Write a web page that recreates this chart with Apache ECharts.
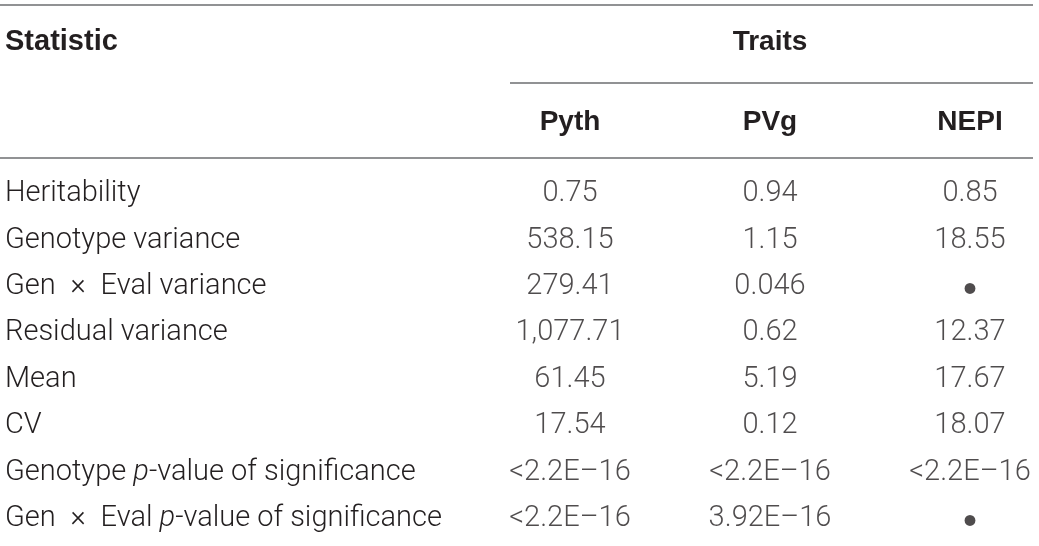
<!DOCTYPE html>
<html>
<head>
<meta charset="utf-8">
<script src="https://cdn.jsdelivr.net/npm/echarts@6/dist/echarts.min.js"></script>
<style>
  html, body { margin: 0; padding: 0; background: #fff; }
  #table { width: 1039px; height: 546px; }
</style>
</head>
<body>
<div id="table"></div>
<script>
// table content
var traits = ['Pyth', 'PVg', 'NEPI'];
var statistics = [
  'Heritability',
  'Genotype variance',
  'Gen\u2002\u00d7\u2002Eval variance',
  'Residual variance',
  'Mean',
  'CV',
  'Genotype p-value of significance',
  'Gen\u2002\u00d7\u2002Eval p-value of significance'
];
var pythValues = ['0.75', '538.15', '279.41', '1,077.71', '61.45', '17.54', '<2.2E\u201316', '<2.2E\u201316'];
var pvgValues = ['0.94', '1.15', '0.046', '0.62', '5.19', '0.12', '<2.2E\u201316', '3.92E\u201316'];
var nepiValues = ['0.85', '18.55', '\u2022', '12.37', '17.67', '18.07', '<2.2E\u201316', '\u2022'];

var chart = echarts.init(document.getElementById('table'));

var textColor = '#231f20';
var bodyFont = 'Roboto';
var headFont = 'Liberation Sans';
var ruleColor = '#6d6e71';

var columns = [pythValues, pvgValues, nepiValues];
var cells = [];
columns.forEach(function (col, c) {
  col.forEach(function (v, r) {
    cells.push([traits[c], statistics[r], v]);
  });
});

var option = {
  animation: false,
  title: {
    text: 'Statistic',
    left: 5,
    top: 27,
    padding: 0,
    textStyle: { fontFamily: headFont, fontSize: 29, fontWeight: 'bold', color: textColor }
  },
  grid: { left: 570, right: 69, top: 194, bottom: 27.2 },
  xAxis: {
    type: 'category',
    data: traits,
    position: 'top',
    boundaryGap: false,
    axisLine: { show: false },
    axisTick: { show: false },
    splitLine: { show: false },
    axisLabel: {
      margin: 72,
      verticalAlign: 'middle',
      fontFamily: headFont, fontSize: 28, fontWeight: 'bold', color: textColor
    },
    name: 'Traits',
    nameLocation: 'middle',
    nameGap: 152,
    nameTextStyle: {
      verticalAlign: 'middle',
      fontFamily: headFont, fontSize: 28, fontWeight: 'bold', color: textColor
    }
  },
  yAxis: {
    type: 'category',
    data: statistics,
    inverse: true,
    boundaryGap: false,
    axisLine: { show: false },
    axisTick: { show: false },
    splitLine: { show: false },
    axisLabel: {
      align: 'left',
      margin: 565,
      fontFamily: bodyFont, fontSize: 29, fontWeight: 300, color: textColor,
      formatter: function (v) {
        return v.replace(' p-value', ' {i|p}-value');
      },
      rich: {
        i: { fontFamily: bodyFont, fontSize: 29, fontWeight: 300, fontStyle: 'italic', color: textColor }
      }
    }
  },
  graphic: [
    { type: 'line', shape: { x1: 0, y1: 5, x2: 1033, y2: 5 }, style: { stroke: ruleColor, lineWidth: 1.5 } },
    { type: 'line', shape: { x1: 510, y1: 83, x2: 1033, y2: 83 }, style: { stroke: ruleColor, lineWidth: 1.5 } },
    { type: 'line', shape: { x1: 0, y1: 158, x2: 1033, y2: 158 }, style: { stroke: ruleColor, lineWidth: 1.5 } }
  ],
  series: [{
    type: 'scatter',
    data: cells,
    symbolSize: 1,
    itemStyle: { color: 'rgba(0,0,0,0)' },
    label: {
      show: true,
      position: 'inside',
      fontFamily: bodyFont, fontSize: 29, fontWeight: 300, color: textColor,
      formatter: function (p) {
        var v = p.value[2];
        return v === '\u2022' ? '{b|\u2022}' : v;
      },
      rich: {
        b: { fontFamily: 'Liberation Sans', fontSize: 40, padding: [8, 0, 0, 0], color: textColor }
      }
    },
    emphasis: { disabled: true }
  }]
};

chart.setOption(option);
</script>
</body>
</html>
